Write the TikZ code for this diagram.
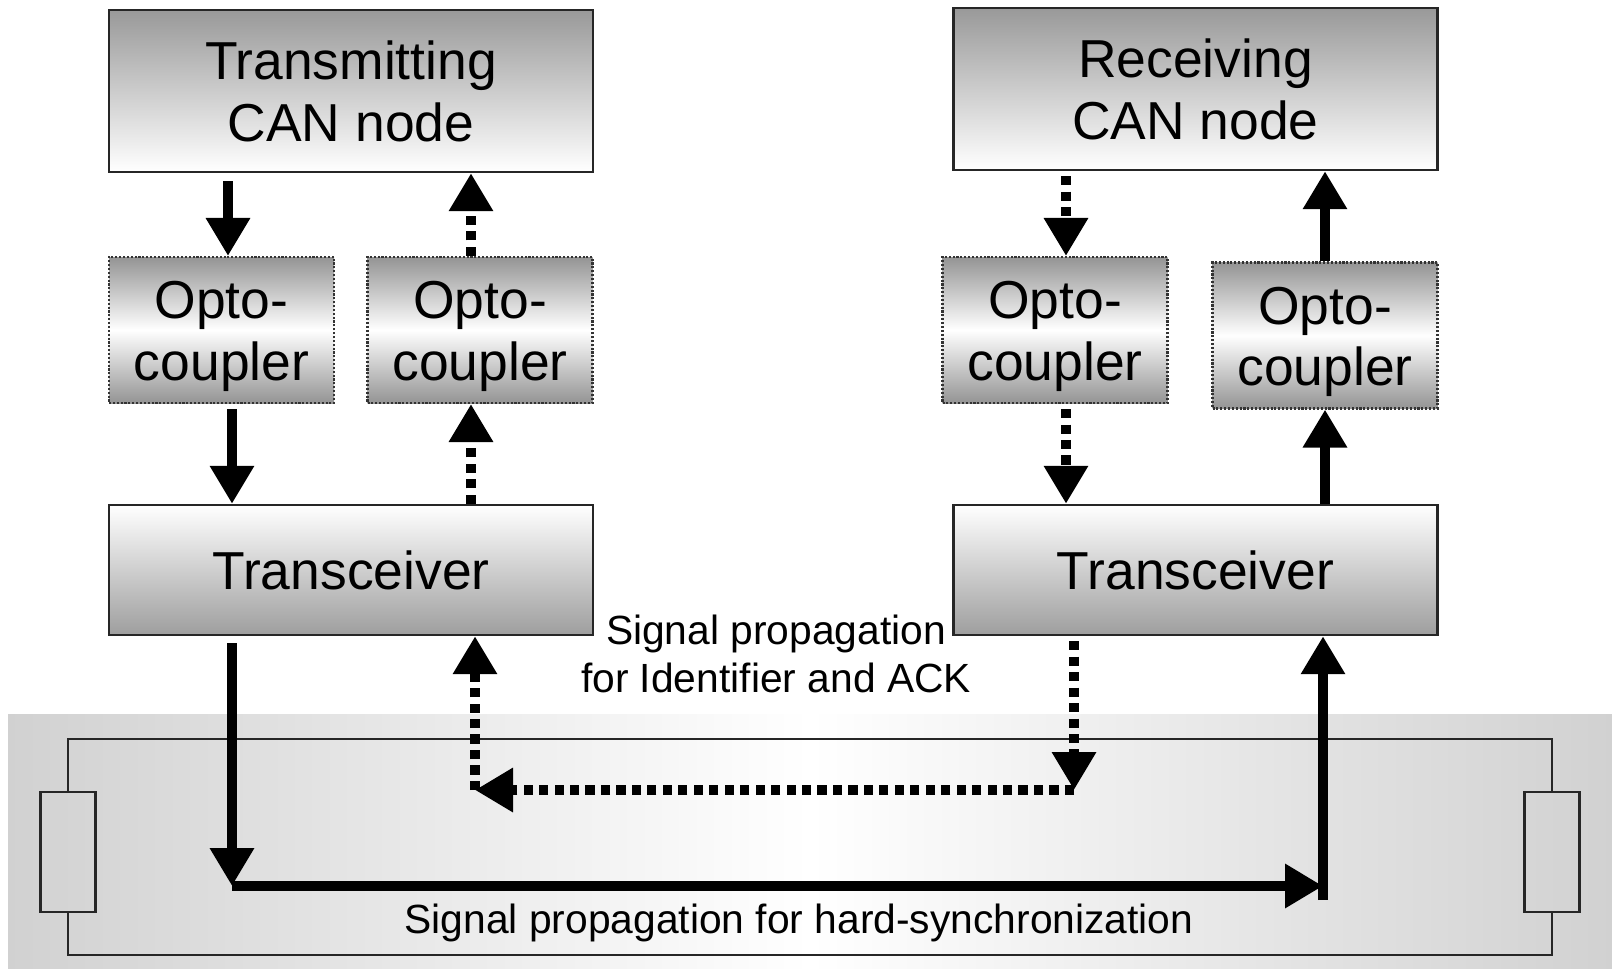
\documentclass[tikz,border=0pt]{standalone}
\usepackage{fontspec}
\setmainfont{Liberation Sans}
\usetikzlibrary{arrows.meta,positioning,calc}

\begin{document}
\begin{tikzpicture}[x=0.1mm,y=-0.1mm,>={Triangle[length=3.8mm,width=4.2mm]},
 canbox/.style={draw=black!85,line width=.7pt,top color=black!40,bottom color=white,minimum width=48.4mm,minimum height=16.2mm,inner sep=0pt,align=center,font=\fontsize{15.2}{17.6}\selectfont},
 trxbox/.style={canbox,top color=white,bottom color=black!38,minimum height=13mm},
 optobox/.style={draw=black!80,line width=.6pt,dash pattern=on .6pt off .5pt,top color=black!42,bottom color=black!42,middle color=white,minimum width=22.5mm,minimum height=14.6mm,inner sep=0pt,align=center,font=\fontsize{15.2}{17.6}\selectfont},
 resbox/.style={draw=black!85,line width=.6pt,minimum width=5.5mm,minimum height=12mm,inner sep=0pt},
 bus/.style={draw=black!85,line width=.6pt},
 sig/.style={->,line width=2.8pt},
 sigdot/.style={sig,dash pattern=on 2.6pt off 1.8pt},
 lbl/.style={align=center,font=\fontsize{11.6}{13.7}\selectfont}]
\useasboundingbox (0,0) rectangle (1612,969);
\shade[left color=black!18,right color=black!18,middle color=white] (8,714) rectangle (1612,969);

% transmitting side
\node[canbox] (tx) at (351,91) {Transmitting\\CAN node};
\node[optobox] (o1) at (221.5,330) {\rule{0pt}{5mm}Opto-\\coupler};
\node[optobox] (o2) at (480,330) {\rule{0pt}{5mm}Opto-\\coupler};
\node[trxbox] (trl) at (351,570) {Transceiver};

% receiving side
\node[canbox] (rx) at (1195.5,89) {Receiving\\CAN node};
\node[optobox] (p1) at (1055,330) {\rule{0pt}{5mm}Opto-\\coupler};
\node[optobox] (p2) at (1325,335.5) {\rule{0pt}{5mm}Opto-\\coupler};
\node[trxbox] (trr) at (1195.5,570) {Transceiver};

% bus with terminations
\node[resbox] (rl) at (68,852) {};
\node[resbox] (rr) at (1552,852) {};
\draw[bus] (rl.north) -- ++(0,-52) -| (rr.north);
\draw[bus] (rl.south) -- ++(0,42) -| (rr.south);

\node[lbl] (idl) at (776,654) {Signal propagation\\for Identifier and ACK};
\node[lbl] (hsl) at (799,923) {Signal propagation for hard-synchronization};

\coordinate (hs1) at (232,886);
\coordinate (hs2) at (1323,886);
\coordinate (id1) at (1074,790);
\coordinate (id2) at (475,790);

\draw[sig,shorten <=.8mm] ([xshift=.65mm]o1.north |- tx.south) -- ([xshift=.65mm]o1.north);
\draw[sigdot] ([xshift=-.9mm]o2.north) -- ([xshift=-.9mm]o2.north |- tx.south);
\draw[sig,shorten <=.5mm] ([xshift=1.05mm]o1.south) -- ([xshift=1.05mm]o1.south |- trl.north);
\draw[sigdot] ([xshift=-.9mm]o2.south |- trl.north) -- ([xshift=-.9mm]o2.south);

\draw[sigdot,shorten <=.5mm] ([xshift=1.1mm]p1.north |- rx.south) -- ([xshift=1.1mm]p1.north);
\draw[sigdot,shorten <=.5mm] ([xshift=1.1mm]p1.south) -- ([xshift=1.1mm]p1.south |- trr.north);
\draw[sig] (p2.south |- trr.north) -- (p2.south);
\draw[sig] (p2.north) -- (p2.north |- rx.south);

% propagation on the bus
\draw[sig,shorten <=.7mm] (trl.south -| hs1) -- (hs1);
\draw[sig] (hs1) -- (hs2);
\draw[sig] ([yshift=-1.4mm]hs2) -- (hs2 |- trr.south);
\draw[sigdot,shorten <=.5mm] (trr.south -| id1) -- (id1);
\draw[sigdot] (id1) -- (id2);
\draw[sigdot] (id2) -- (id2 |- trl.south);
\end{tikzpicture}
\end{document}
